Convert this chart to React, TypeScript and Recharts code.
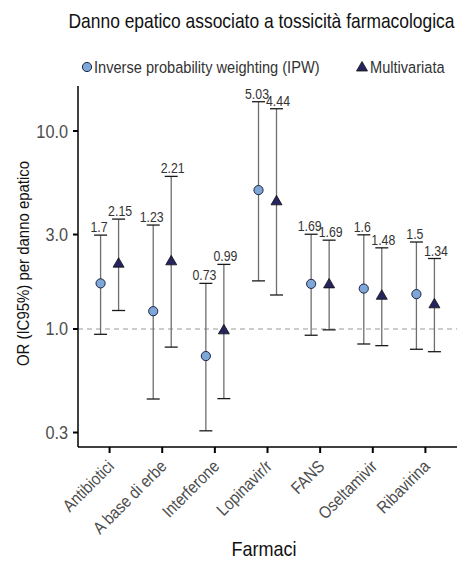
import React from 'react';
import { ComposedChart, Scatter, XAxis, YAxis, ErrorBar, ReferenceLine } from 'recharts';

const categories = ['Antibiotici', 'A base di erbe', 'Interferone', 'Lopinavir/r', 'FANS', 'Oseltamivir', 'Ribavirina'];
const ipwOR = [1.7, 1.23, 0.73, 5.03, 1.69, 1.6, 1.5];
const ipwLow = [0.94, 0.443, 0.306, 1.75, 0.93, 0.84, 0.79];
const ipwHigh = [2.98, 3.35, 1.7, 14.06, 3.01, 2.99, 2.75];
const multiOR = [2.15, 2.21, 0.99, 4.44, 1.69, 1.48, 1.34];
const multiLow = [1.24, 0.81, 0.445, 1.485, 0.99, 0.824, 0.768];
const multiHigh = [3.59, 5.9, 2.12, 12.96, 2.81, 2.57, 2.27];
const yTicks = [0.3, 1, 3, 10];
const seriesNames = ['Inverse probability weighting (IPW)', 'Multivariata'];
const chartTitle = 'Danno epatico associato a tossicità farmacologica';
const xTitle = 'Farmaci';
const yTitle = 'OR (IC95%) per danno epatico';

const FONT = '"Liberation Sans", Arial, sans-serif';
const SQ = 0.88; // horizontal condensing of text
const DODGE = 0.171;

const build = (or: number[], lo: number[], hi: number[], shift: number) =>
  or.map((v, i) => ({
    x: i + 1 + shift,
    y: v,
    err: [v - lo[i], hi[i] - v],
    label: String(v),
  }));
const buildCap = (vals: number[], or: number[], shift: number) =>
  vals.map((v, i) => ({ x: i + 1 + shift, y: v, label: String(or[i]) }));

const ipwData = build(ipwOR, ipwLow, ipwHigh, -DODGE);
const multiData = build(multiOR, multiLow, multiHigh, DODGE);
const ipwHighCaps = buildCap(ipwHigh, ipwOR, -DODGE);
const ipwLowCaps = buildCap(ipwLow, ipwOR, -DODGE);
const multiHighCaps = buildCap(multiHigh, multiOR, DODGE);
const multiLowCaps = buildCap(multiLow, multiOR, DODGE);

const CIRCLE_FILL = '#7ea6d8';
const TRI_FILL = '#25245e';

const CText = ({ x, y, size, anchor = 'start', rotate = 0, fill = '#111', baseline, children }: any) => (
  <text
    transform={`translate(${x},${y}) rotate(${rotate}) scale(${SQ},1)`}
    fontSize={size}
    fontFamily={FONT}
    textAnchor={anchor}
    dominantBaseline={baseline}
    fill={fill}
  >
    {children}
  </text>
);

const Cap = (props: any) => {
  const { cx, cy } = props;
  if (cx == null || cy == null) return null;
  return <line x1={cx - 6.5} x2={cx + 6.5} y1={cy} y2={cy} stroke="#1a1a1a" strokeWidth={1.3} />;
};
const makeTopCap = (dx: number) => (props: any) => {
  const { cx, cy, payload } = props;
  if (cx == null || cy == null) return null;
  return (
    <g>
      <line x1={cx - 6.5} x2={cx + 6.5} y1={cy} y2={cy} stroke="#1a1a1a" strokeWidth={1.3} />
      <CText x={cx + dx} y={cy - 3} size={14} anchor="middle" fill="#333">
        {payload.label}
      </CText>
    </g>
  );
};
const IpwTopCap = makeTopCap(-1.5);
const MultiTopCap = makeTopCap(1.5);

const CircleShape = (props: any) => {
  const { cx, cy } = props;
  if (cx == null || cy == null) return null;
  return <circle cx={cx} cy={cy} r={4.6} fill={CIRCLE_FILL} stroke="#1c2640" strokeWidth={1} />;
};
const TriShape = (props: any) => {
  const { cx, cy } = props;
  if (cx == null || cy == null) return null;
  return (
    <polygon
      points={`${cx},${cy - 5.5} ${cx - 5.5},${cy + 4} ${cx + 5.5},${cy + 4}`}
      fill={TRI_FILL}
      stroke="#111"
      strokeWidth={0.8}
    />
  );
};

const XTick = (props: any) => {
  const { x, payload } = props;
  const label = categories[Math.round(payload.value) - 1];
  return (
    <CText x={x - 3} y={459} rotate={-45} anchor="end" baseline="hanging" size={17} fill="#4d4d4d">
      {label}
    </CText>
  );
};

const YTick = (props: any) => {
  const { x, y, payload } = props;
  return (
    <CText x={x} y={y + 6.5} anchor="end" size={18.5} fill="#4d4d4d">
      {Number(payload.value).toFixed(1)}
    </CText>
  );
};

export default function App() {
  return (
    <div style={{ position: 'absolute', left: 0, top: 0, width: 457, height: 562, background: '#fff' }}>
      <ComposedChart
        width={457}
        height={562}
        margin={{ top: 86, right: 0, bottom: 0, left: 0 }}
        style={{ fontFamily: FONT }}
      >
        <XAxis
          dataKey="x"
          type="number"
          domain={[0.4, 7.6]}
          allowDataOverflow
          ticks={[1, 2, 3, 4, 5, 6, 7]}
          interval={0}
          height={115}
          tick={<XTick />}
          tickSize={6}
          tickLine={{ stroke: '#000', strokeWidth: 2 }}
          axisLine={{ stroke: '#000', strokeWidth: 1.5 }}
        />
        <YAxis
          dataKey="y"
          type="number"
          scale="log"
          domain={[0.2535, 16.88]}
          allowDataOverflow
          ticks={yTicks}
          interval={0}
          width={78}
          tick={<YTick />}
          tickSize={5}
          tickMargin={5}
          tickLine={{ stroke: '#000', strokeWidth: 2 }}
          axisLine={{ stroke: '#000', strokeWidth: 1.5 }}
        />
        <ReferenceLine y={1} stroke="#9a9a9a" strokeDasharray="5 4" strokeWidth={1.1} />
        <Scatter data={ipwData} shape={() => null} isAnimationActive={false}>
          <ErrorBar dataKey="err" direction="y" width={0} stroke="#6e6e6e" strokeWidth={1.3} isAnimationActive={false} />
        </Scatter>
        <Scatter data={multiData} shape={() => null} isAnimationActive={false}>
          <ErrorBar dataKey="err" direction="y" width={0} stroke="#6e6e6e" strokeWidth={1.3} isAnimationActive={false} />
        </Scatter>
        <Scatter data={ipwLowCaps} shape={Cap} isAnimationActive={false} />
        <Scatter data={multiLowCaps} shape={Cap} isAnimationActive={false} />
        <Scatter data={ipwHighCaps} shape={IpwTopCap} isAnimationActive={false} />
        <Scatter data={multiHighCaps} shape={MultiTopCap} isAnimationActive={false} />
        <Scatter name={seriesNames[0]} data={ipwData} shape={CircleShape} isAnimationActive={false} />
        <Scatter name={seriesNames[1]} data={multiData} shape={TriShape} isAnimationActive={false} />
      </ComposedChart>
      <svg
        width={457}
        height={562}
        style={{ position: 'absolute', left: 0, top: 0, pointerEvents: 'none' }}
      >
        <CText x={261.5} y={28} size={19.8} anchor="middle">{chartTitle}</CText>
        <circle cx={87} cy={67} r={4.6} fill={CIRCLE_FILL} stroke="#1c2640" strokeWidth={1} />
        <CText x={94} y={72.5} size={16.6} fill="#333">{seriesNames[0]}</CText>
        <polygon points="362,61.5 356.5,71 367.5,71" fill={TRI_FILL} stroke="#111" strokeWidth={0.8} />
        <CText x={370} y={72.5} size={16.6} fill="#333">{seriesNames[1]}</CText>
        <CText x={28.5} y={263.5} rotate={-90} size={17} anchor="middle">{yTitle}</CText>
        <CText x={264} y={556} size={20.5} anchor="middle">{xTitle}</CText>
      </svg>
    </div>
  );
}
